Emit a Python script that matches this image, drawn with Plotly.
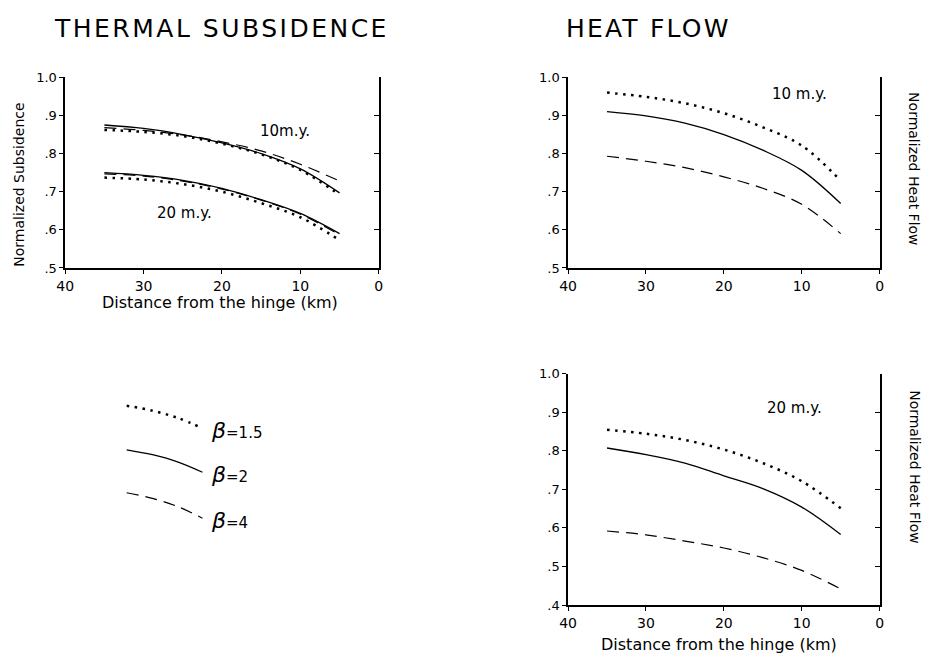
import plotly.graph_objects as go

# ---------------- data ----------------
dist = [35, 30, 25, 20, 15, 10, 5]

# Thermal subsidence
sub10_b15 = [0.862, 0.857, 0.846, 0.826, 0.798, 0.757, 0.692]
sub10_b2 = [0.875, 0.866, 0.850, 0.828, 0.800, 0.760, 0.697]
sub10_b4 = [0.868, 0.861, 0.849, 0.831, 0.807, 0.772, 0.728]
sub20_b15 = [0.737, 0.732, 0.720, 0.700, 0.670, 0.633, 0.573]
sub20_b2 = [0.750, 0.743, 0.730, 0.709, 0.679, 0.643, 0.590]
sub20_b4 = [0.747, 0.741, 0.728, 0.707, 0.678, 0.641, 0.587]

# Heat flow, 10 m.y.
hf10_b15 = [0.960, 0.949, 0.932, 0.906, 0.869, 0.821, 0.729]
hf10_b2 = [0.910, 0.899, 0.880, 0.850, 0.809, 0.756, 0.669]
hf10_b4 = [0.793, 0.780, 0.763, 0.739, 0.709, 0.667, 0.590]

# Heat flow, 20 m.y.
hf20_b15 = [0.854, 0.844, 0.828, 0.803, 0.768, 0.721, 0.651]
hf20_b2 = [0.807, 0.790, 0.768, 0.735, 0.702, 0.654, 0.583]
hf20_b4 = [0.592, 0.582, 0.566, 0.548, 0.523, 0.490, 0.442]

x_ticks = [40, 30, 20, 10, 0]
x_tick_text = ["40", "30", "20", "10", "0"]
y_ticks_a = [0.5, 0.6, 0.7, 0.8, 0.9, 1.0]
y_tick_text_a = [".5", ".6", ".7", ".8", ".9", "1.0"]
y_ticks_b = [0.4, 0.5, 0.6, 0.7, 0.8, 0.9, 1.0]
y_tick_text_b = [".4", ".5", ".6", ".7", ".8", ".9", "1.0"]

# legend sample curves (legend-box units)
legend_x = [0.03, 0.21, 0.39, 0.56]
legend_b15_y = [0.943, 0.907, 0.853, 0.779]
legend_b2_y = [0.621, 0.585, 0.531, 0.457]
legend_b4_y = [0.307, 0.266, 0.205, 0.121]
legend_labels = ["1.5", "2", "4"]

# ---------------- styles ----------------
FONT = "DejaVu Sans"
DOT = dict(color="black", width=2.5, dash="2.5px,5.5px")
SOLID = dict(color="black", width=1.3)
DASH = dict(color="black", width=1.2, dash="12px,7px")

W, H = 930, 662


def px_x(a, b):
    return [a / W, b / W]


def px_y(top, bottom):
    return [1 - bottom / H, 1 - top / H]


fig = go.Figure()


def add(xv, yv, line, xa, ya):
    fig.add_trace(go.Scatter(x=xv, y=yv, mode="lines", line=line, line_shape="spline",
                             xaxis=xa, yaxis=ya, showlegend=False, hoverinfo="skip"))


# panel 1: thermal subsidence
for ys, ln in [(sub10_b4, DASH), (sub10_b15, DOT), (sub10_b2, SOLID),
               (sub20_b4, DASH), (sub20_b15, DOT), (sub20_b2, SOLID)]:
    add(dist, ys, ln, "x", "y")
# panel 2: heat flow 10 m.y.
for ys, ln in [(hf10_b15, DOT), (hf10_b2, SOLID), (hf10_b4, DASH)]:
    add(dist, ys, ln, "x2", "y2")
# panel 3: heat flow 20 m.y.
for ys, ln in [(hf20_b15, DOT), (hf20_b2, SOLID), (hf20_b4, DASH)]:
    add(dist, ys, ln, "x3", "y3")
# legend samples
for ys, ln in [(legend_b15_y, DOT), (legend_b2_y, SOLID), (legend_b4_y, DASH)]:
    add(legend_x, ys, ln, "x4", "y7")

# invisible traces to make overlay (right) axes render
for ya, xa, rng in [("y4", "x", [0.5, 1.0]), ("y5", "x2", [0.5, 1.0]), ("y6", "x3", [0.4, 1.0])]:
    fig.add_trace(go.Scatter(x=[20], y=[rng[0]], mode="markers", marker=dict(opacity=0),
                             xaxis=xa, yaxis=ya, showlegend=False, hoverinfo="skip"))

AX = dict(showline=True, linecolor="black", linewidth=1.5, showgrid=False, zeroline=False,
          ticks="outside", ticklen=4, tickwidth=1.3, tickcolor="black")

xbase = dict(AX, range=[40, 0], tickvals=x_ticks, ticktext=x_tick_text,
             tickfont=dict(family=FONT, size=14, color="black"))
ybase_a = dict(AX, range=[0.5, 1.0], tickvals=y_ticks_a, ticktext=y_tick_text_a,
               tickfont=dict(family=FONT, size=13, color="black"))
ybase_b = dict(AX, range=[0.4, 1.0], tickvals=y_ticks_b, ticktext=y_tick_text_b,
               tickfont=dict(family=FONT, size=13, color="black"))
right_a = dict(showline=True, linecolor="black", linewidth=1.5, showgrid=False, zeroline=False,
               ticks="inside", ticklen=5, tickwidth=1.3, tickcolor="black", showticklabels=False,
               side="right", range=[0.5, 1.0], tickvals=y_ticks_a)
right_b = dict(right_a, range=[0.4, 1.0], tickvals=y_ticks_b)

top_dom = px_y(72, 267)
bot_dom = px_y(375, 612)

fig.update_layout(
    width=W, height=H,
    margin=dict(l=0, r=0, t=0, b=0),
    paper_bgcolor="white", plot_bgcolor="white",
    font=dict(family=FONT, color="black"),
    xaxis=dict(xbase, domain=px_x(57, 375), anchor="y"),
    yaxis=dict(ybase_a, domain=top_dom, anchor="x"),
    yaxis4=dict(right_a, overlaying="y", anchor="x"),
    xaxis2=dict(xbase, domain=px_x(567, 883), anchor="y2"),
    yaxis2=dict(ybase_a, domain=top_dom, anchor="x2"),
    yaxis5=dict(right_a, overlaying="y2", anchor="x2"),
    xaxis3=dict(xbase, domain=px_x(567, 883), anchor="y3"),
    yaxis3=dict(ybase_b, domain=bot_dom, anchor="x3"),
    yaxis6=dict(right_b, overlaying="y3", anchor="x3"),
    xaxis4=dict(domain=px_x(115, 260), range=[0, 1], visible=False, anchor="y7"),
    yaxis7=dict(domain=px_y(400, 540), range=[0, 1], visible=False, anchor="x4"),
)


def txt(text, x, y, size, xref="paper", yref="paper", xanchor="center", angle=0):
    if xref == "paper":
        x = x / W
    if yref == "paper":
        y = 1 - y / H
    return dict(text=text, xref=xref, yref=yref, x=x, y=y, xanchor=xanchor, yanchor="middle",
                textangle=angle, showarrow=False, borderpad=0, font=dict(size=size))


ann = [
    txt("<span style='letter-spacing:2.5px'>THERMAL SUBSIDENCE</span>", 216, 22, 25),
    txt("<span style='letter-spacing:2.2px'>HEAT FLOW</span>", 649, 22, 25),
    txt("Normalized Subsidence", 10, 182, 14, angle=-90),
    txt("Distance from the hinge (km)", 214, 302, 16),
    txt("Distance from the hinge (km)", 720, 652, 16),
    txt("Normalized Heat Flow", 918, 165, 14, angle=90),
    txt("Normalized Heat Flow", 918, 470, 14, angle=90),
    txt("10m.y.", 11.9, 0.859, 15, xref="x", yref="y"),
    txt("20 m.y.", 24.8, 0.645, 15, xref="x", yref="y"),
    txt("10 m.y.", 10.3, 0.957, 15, xref="x2", yref="y2"),
    txt("20 m.y.", 10.9, 0.910, 15, xref="x3", yref="y3"),
]
for lab, ys in zip(legend_labels, [legend_b15_y, legend_b2_y, legend_b4_y]):
    ann.append(txt("<span style='font-size:22px'><i>β</i></span>=" + lab, 0.61, ys[-1] - 0.02, 15,
                   xref="x4", yref="y7", xanchor="left"))
fig.update_layout(annotations=ann)

fig.write_html("out.html")
